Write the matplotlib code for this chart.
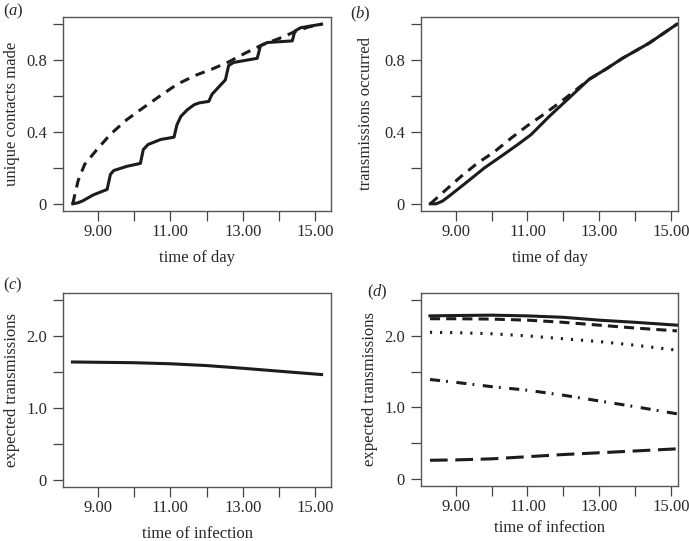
import matplotlib
matplotlib.use('Agg')
import matplotlib.pyplot as plt

plt.rcParams['font.family'] = 'Liberation Serif'
plt.rcParams['font.size'] = 12
plt.rcParams['mathtext.fontset'] = 'custom'
plt.rcParams['mathtext.rm'] = 'Liberation Serif'
plt.rcParams['mathtext.it'] = 'Liberation Serif:italic'

INK = '#1c1c1c'
TXT = '#2a2a2a'
EDGE = '#555555'

# (a) unique contacts made
a_solid_t = [8.30, 8.45, 8.59, 8.87, 9.25, 9.34, 9.43, 9.80, 10.17, 10.25, 10.38, 10.73,
             11.10, 11.18, 11.29, 11.47, 11.66, 11.80, 12.06, 12.15, 12.52, 12.61, 12.75,
             13.40, 13.49, 13.68, 14.37, 14.44, 14.60, 14.88, 15.18]
a_solid_y = [0.0, 0.006, 0.018, 0.05, 0.08, 0.163, 0.185, 0.209, 0.225, 0.302, 0.33, 0.358,
             0.371, 0.44, 0.487, 0.524, 0.552, 0.562, 0.57, 0.61, 0.69, 0.77, 0.787,
             0.81, 0.88, 0.898, 0.907, 0.962, 0.98, 0.99, 1.0]
a_dash_t = [8.30, 8.35, 8.45, 8.63, 8.96, 9.33, 9.79, 10.25, 10.71, 11.18, 11.69, 12.15,
            12.61, 13.08, 13.54, 14.00, 14.46, 14.83, 15.18]
a_dash_y = [0.0, 0.045, 0.13, 0.22, 0.30, 0.385, 0.468, 0.535, 0.60, 0.665, 0.715, 0.75,
            0.79, 0.84, 0.885, 0.92, 0.96, 0.985, 1.0]

# (b) transmissions occurred
b_solid_t = [8.29, 8.45, 8.63, 8.86, 9.34, 9.80, 10.27, 10.73, 11.10, 11.61, 12.08, 12.72,
             13.19, 13.65, 14.39, 15.17]
b_solid_y = [0.0, 0.0, 0.015, 0.05, 0.126, 0.20, 0.265, 0.33, 0.385, 0.487, 0.574, 0.693,
             0.75, 0.81, 0.894, 1.0]
b_dash_t = [8.29, 8.68, 9.15, 9.61, 10.08, 10.54, 11.00, 11.47, 11.97, 12.39, 12.72,
            13.19, 13.65, 14.39, 15.17]
b_dash_y = [0.0, 0.07, 0.153, 0.227, 0.29, 0.365, 0.435, 0.50, 0.574, 0.64, 0.693,
            0.75, 0.81, 0.894, 1.0]

# (c) expected transmissions
c_t = [8.29, 9.97, 11.00, 12.00, 12.94, 14.05, 15.18]
c_y = [1.64, 1.63, 1.615, 1.59, 1.555, 1.51, 1.465]

# (d) expected transmissions, five scenarios
d_t = [8.28, 9.0, 10.0, 11.0, 12.0, 13.0, 14.0, 15.17]
d_solid = [2.28, 2.285, 2.29, 2.28, 2.26, 2.22, 2.19, 2.15]
d_dash = [2.24, 2.24, 2.235, 2.22, 2.19, 2.15, 2.11, 2.07]
d_dot = [2.05, 2.045, 2.03, 2.0, 1.96, 1.92, 1.87, 1.80]
d_dashdot = [1.39, 1.35, 1.29, 1.24, 1.17, 1.09, 1.01, 0.91]
d_longdash = [0.26, 0.265, 0.28, 0.31, 0.34, 0.365, 0.39, 0.42]

x_ticks = [9, 10, 11, 12, 13, 14, 15]
x_labels = ['9.00', '', '11.00', '', '13.00', '', '15.00']

fig = plt.figure(figsize=(6.89, 5.41), dpi=100)
W, H = 689.0, 541.0


def box(l, t, r, b):
    return [l / W, 1 - b / H, (r - l) / W, (b - t) / H]


def style(ax, xlim, ylim, yticks, ylabels, xlabel, ylabel, xl_y, yl_x):
    ax.set_xlim(xlim)
    ax.set_ylim(ylim)
    ax.set_xticks(x_ticks)
    ax.set_xticklabels(x_labels)
    ax.set_yticks(yticks)
    ax.set_yticklabels(ylabels)
    ax.tick_params(direction='out', length=7.5, width=0.9, color='#444444',
                   labelcolor=TXT, labelsize=12)
    ax.tick_params(axis='x', pad=2)
    ax.tick_params(axis='y', pad=4)
    for s in ax.spines.values():
        s.set_color(EDGE)
        s.set_linewidth(1.0)
    ax.set_xlabel(xlabel, color=TXT, fontsize=12)
    ax.set_ylabel(ylabel, color=TXT, fontsize=12)
    ax.xaxis.set_label_coords(0.5, xl_y)
    ax.xaxis.label.set_va('center')
    ax.yaxis.set_label_coords(yl_x, 0.5)
    ax.yaxis.label.set_va('center')


lw = 2.2
ax = fig.add_axes(box(63, 17, 331, 211))
ax.plot(a_solid_t, a_solid_y, color=INK, lw=lw)
ax.plot(a_dash_t, a_dash_y, color=INK, lw=lw, ls=(0, (3.2, 2.3)))
style(ax, (8.03, 15.44), (-0.04, 1.04), [0, 0.2, 0.4, 0.6, 0.8, 1.0],
      ['0', '', '0.4', '', '0.8', ''], 'time of day', 'unique contacts made', -0.24, -0.19)

ax = fig.add_axes(box(421, 17, 678, 211))
ax.plot(b_solid_t, b_solid_y, color=INK, lw=lw)
ax.plot(b_dash_t, b_dash_y, color=INK, lw=lw, ls=(0, (3.2, 2.3)))
style(ax, (8.03, 15.2), (-0.04, 1.04), [0, 0.2, 0.4, 0.6, 0.8, 1.0],
      ['0', '', '0.4', '', '0.8', ''], 'time of day', 'transmissions occurred', -0.24, -0.215)

ax = fig.add_axes(box(63, 293, 331, 487))
ax.plot(c_t, c_y, color=INK, lw=lw)
style(ax, (8.03, 15.44), (-0.1, 2.6), [0, 0.5, 1.0, 1.5, 2.0, 2.5],
      ['0', '', '1.0', '', '2.0', ''], 'time of infection', 'expected transmissions', -0.24, -0.19)

ax = fig.add_axes(box(421, 293, 678, 486))
ax.plot(d_t, d_solid, color=INK, lw=lw)
ax.plot(d_t, d_dash, color=INK, lw=lw, ls=(0, (3.3, 2.0)))
ax.plot(d_t, d_dot, color=INK, lw=lw, ls=(0, (0.7, 2.6)))
ax.plot(d_t, d_dashdot, color=INK, lw=lw, ls=(0, (3.3, 2.0, 0.6, 2.8)))
ax.plot(d_t, d_longdash, color=INK, lw=lw, ls=(0, (5.8, 2.5)))
style(ax, (8.03, 15.2), (-0.1, 2.6), [0, 0.5, 1.0, 1.5, 2.0, 2.5],
      ['0', '', '1.0', '', '2.0', ''], 'time of infection', 'expected transmissions', -0.22, -0.2)

panel_labels = ['a', 'b', 'c', 'd']
panel_pos = [(3, 11), (350, 14), (3, 285), (367, 292)]
for lab, (px, py) in zip(panel_labels, panel_pos):
    fig.text(px / W, 1 - py / H, r'$\mathrm{(}%s\mathrm{)}$' % lab, ha='left', va='center',
             fontsize=12, color=TXT)

fig.savefig('out.png', dpi=100)
